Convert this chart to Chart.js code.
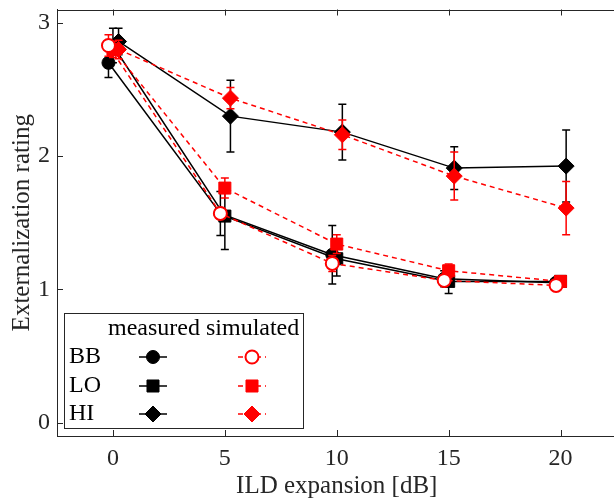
<!DOCTYPE html>
<html>
<head>
<meta charset="utf-8">
<script src="https://cdn.jsdelivr.net/npm/chart.js@4.4.0/dist/chart.umd.min.js"></script>
<style>
  html, body { margin: 0; padding: 0; background: #fff; overflow: hidden; }
  #wrap { width: 614px; height: 499px; overflow: hidden; }
</style>
</head>
<body>
<div id="wrap"><canvas id="externalization" width="626" height="499"></canvas></div>
<script>
// ILD expansion conditions and rating axis
const ildExpansion = [0, 5, 10, 15, 20];
const xTickLabels = ['0', '5', '10', '15', '20'];
const yTickValues = [0, 1, 2, 3];
const conditions = ['BB', 'LO', 'HI'];
const conditionShift = [-0.2, 0, 0.25];

// listening test means and error bars
const measuredBB = [2.70, 1.57, 1.26, 1.08, 1.05];
const measuredBBErr = [0.11, 0.165, 0.22, 0.06, 0.03];
const measuredLO = [2.83, 1.55, 1.23, 1.06, 1.06];
const measuredLOErr = [0.13, 0.25, 0.13, 0.09, 0.04];
const measuredHI = [2.86, 2.30, 2.18, 1.91, 1.925];
const measuredHIErr = [0.10, 0.27, 0.21, 0.16, 0.27];

// model predictions
const simulatedBB = [2.83, 1.57, 1.195, 1.067, 1.03];
const simulatedBBErr = [0.08, 0.04, 0.06, 0.03, 0.02];
const simulatedLO = [2.80, 1.76, 1.34, 1.14, 1.06];
const simulatedLOErr = [0.06, 0.075, 0.07, 0.05, 0.04];
const simulatedHI = [2.80, 2.435, 2.16, 1.85, 1.61];
const simulatedHIErr = [0.07, 0.08, 0.11, 0.18, 0.20];

const markerStyle = ['circle', 'rect', 'rectRot'];
const markerRadius = [6.5, 8.5, 8];
const FONT = 'Liberation Serif';

function makeSeries(i, values, errors, simulated) {
    let color = simulated ? '#ff0000' : '#000000';
    let open = simulated && i === 0;
    return {
        label: conditions[i] + (simulated ? ' simulated' : ' measured'),
        data: ildExpansion.map((x, k) => ({ x: x + conditionShift[i], y: values[k] })),
        errors: errors,
        borderColor: color,
        backgroundColor: color,
        borderWidth: 1.5,
        borderDash: simulated ? [5, 4] : [],
        pointStyle: markerStyle[i],
        pointRadius: markerRadius[i],
        pointBackgroundColor: open ? '#ffffff' : color,
        pointBorderColor: color,
        pointBorderWidth: open ? 2 : 1,
        tension: 0,
        order: simulated ? 0 : 1
    };
}

const datasets = [
    makeSeries(0, simulatedBB, simulatedBBErr, true),
    makeSeries(1, simulatedLO, simulatedLOErr, true),
    makeSeries(2, simulatedHI, simulatedHIErr, true),
    makeSeries(0, measuredBB, measuredBBErr, false),
    makeSeries(1, measuredLO, measuredLOErr, false),
    makeSeries(2, measuredHI, measuredHIErr, false)
];

// vertical error bars, drawn just under each series' markers
const errorBars = {
    id: 'errorBars',
    beforeDatasetDraw(chart, args) {
        let ds = chart.data.datasets[args.index];
        if (!ds.errors) return;
        let ctx = chart.ctx;
        let yScale = chart.scales.y;
        ctx.save();
        ctx.strokeStyle = ds.borderColor;
        ctx.lineWidth = 1.5;
        args.meta.data.forEach((pt, k) => {
            let v = ds.data[k].y;
            let top = yScale.getPixelForValue(v + ds.errors[k]);
            let bot = yScale.getPixelForValue(v - ds.errors[k]);
            ctx.beginPath();
            ctx.moveTo(pt.x, top); ctx.lineTo(pt.x, bot);
            ctx.moveTo(pt.x - 4, top); ctx.lineTo(pt.x + 4, top);
            ctx.moveTo(pt.x - 4, bot); ctx.lineTo(pt.x + 4, bot);
            ctx.stroke();
        });
        ctx.restore();
    }
};

// box top edge and inward tick marks
const frame = {
    id: 'frame',
    afterDraw(chart) {
        let ctx = chart.ctx;
        let a = chart.chartArea;
        let xs = chart.scales.x, ys = chart.scales.y;
        ctx.save();
        ctx.strokeStyle = '#262626';
        ctx.lineWidth = 1;
        ctx.beginPath();
        ctx.moveTo(a.left, Math.round(a.top) + 0.5);
        ctx.lineTo(a.right, Math.round(a.top) + 0.5);
        ildExpansion.forEach(v => {
            let px = Math.round(xs.getPixelForValue(v)) + 0.5;
            ctx.moveTo(px, a.bottom); ctx.lineTo(px, a.bottom - 6);
            ctx.moveTo(px, a.top); ctx.lineTo(px, a.top + 6);
        });
        yTickValues.forEach(v => {
            let py = Math.round(ys.getPixelForValue(v)) + 0.5;
            ctx.moveTo(a.left, py); ctx.lineTo(a.left + 6, py);
        });
        ctx.stroke();
        ctx.restore();
    }
};

// two-column legend: measured / simulated per condition
const legendTable = {
    id: 'legendTable',
    afterDraw(chart) {
        let ctx = chart.ctx;
        ctx.save();
        ctx.fillStyle = '#ffffff';
        ctx.strokeStyle = '#262626';
        ctx.lineWidth = 1;
        ctx.fillRect(64.5, 313.5, 239, 115);
        ctx.strokeRect(64.5, 313.5, 239, 115);

        ctx.fillStyle = '#000000';
        ctx.font = '24px "' + FONT + '"';
        ctx.textBaseline = 'middle';
        ctx.textAlign = 'left';
        ctx.fillText('measured simulated', 108, 329);

        let rowY = [357, 386, 414];
        conditions.forEach((name, i) => {
            ctx.fillStyle = '#000000';
            ctx.fillText(name, 69, rowY[i]);
            [false, true].forEach(sim => {
                let cx = sim ? 252 : 153;
                let color = sim ? '#ff0000' : '#000000';
                ctx.strokeStyle = color;
                ctx.lineWidth = 1.5;
                ctx.setLineDash(sim ? [5, 4] : []);
                ctx.beginPath();
                ctx.moveTo(cx - 14, rowY[i]);
                ctx.lineTo(cx + 14, rowY[i]);
                ctx.stroke();
                ctx.setLineDash([]);
                let open = sim && i === 0;
                ctx.fillStyle = open ? '#ffffff' : color;
                ctx.lineWidth = open ? 2 : 1;
                Chart.helpers.drawPoint(ctx, {
                    pointStyle: markerStyle[i],
                    radius: markerRadius[i],
                    rotation: 0,
                    borderWidth: open ? 2 : 1
                }, cx, rowY[i]);
            });
        });
        ctx.restore();
    }
};

new Chart(document.getElementById('externalization'), {
    type: 'line',
    data: { datasets: datasets },
    plugins: [errorBars, frame, legendTable],
    options: {
        responsive: false,
        animation: false,
        layout: { padding: { top: 8, right: 1, left: 0, bottom: 0 } },
        plugins: { legend: { display: false }, tooltip: { enabled: false } },
        scales: {
            x: {
                type: 'linear',
                min: -2.5,
                max: 22.5,
                afterBuildTicks: s => { s.ticks = ildExpansion.map(v => ({ value: v })); },
                afterFit: s => { s.height = 63; s.paddingLeft = 0; s.paddingRight = 0; },
                grid: { display: false, drawTicks: false },
                border: { color: '#262626', width: 1 },
                ticks: {
                    padding: 8,
                    color: '#262626',
                    font: { family: FONT, size: 24 },
                    callback: (v) => xTickLabels[ildExpansion.indexOf(v)]
                },
                title: {
                    display: true,
                    text: 'ILD expansion [dB]',
                    color: '#262626',
                    font: { family: FONT, size: 25, lineHeight: 1 },
                    padding: { top: 0, bottom: 0 }
                }
            },
            y: {
                type: 'linear',
                min: -0.1,
                max: 3.1,
                afterBuildTicks: s => { s.ticks = yTickValues.map(v => ({ value: v })); },
                afterFit: s => { s.width = 57; s.paddingTop = 0; s.paddingBottom = 0; },
                grid: { display: false, drawTicks: false },
                border: { color: '#262626', width: 1 },
                ticks: {
                    padding: 7,
                    color: '#262626',
                    font: { family: FONT, size: 24 },
                    callback: (v) => String(v)
                },
                title: {
                    display: true,
                    text: 'Externalization rating',
                    color: '#262626',
                    font: { family: FONT, size: 25, lineHeight: 1 },
                    padding: { top: 10, bottom: 0 }
                }
            }
        }
    }
});
</script>
</body>
</html>
